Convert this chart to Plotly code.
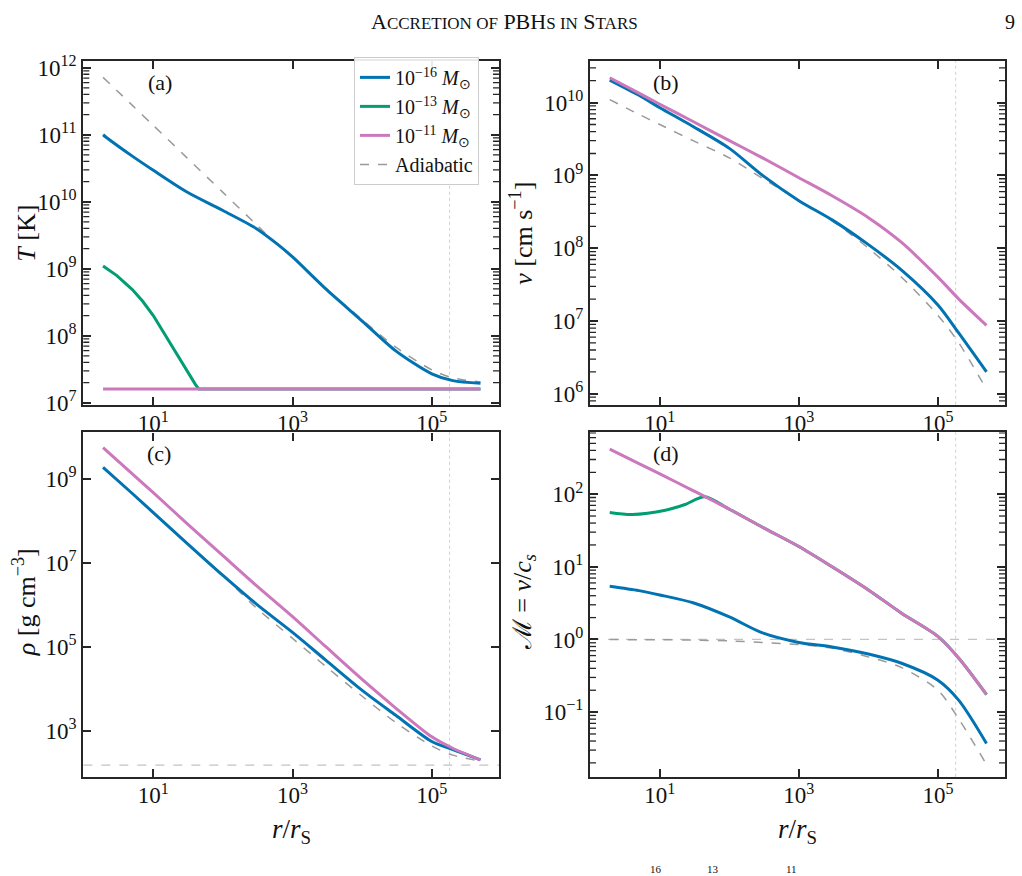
import math
import plotly.graph_objects as go

# ---------------- data ----------------
R = [1.9, 5, 10, 30, 100, 300, 1e3, 3e3, 1e4, 3e4, 1e5, 2e5, 5e5]

# (a) temperature [K]
T_r16 = [1.9, 2.1, 5, 10, 30, 100, 300, 600, 1e3, 3e3, 1e4, 3e4, 1e5, 2e5, 5e5]
T_16 = [1.0e11, 9.2e10, 4.8e10, 2.95e10, 1.41e10, 7.4e9, 4.0e9, 2.35e9, 1.5e9,
        5.0e8, 1.66e8, 6.0e7, 2.7e7, 2.14e7, 1.95e7]
T_r13 = [1.9, 3, 5, 7, 10, 15, 20, 30, 40, 45, 1e3, 1e5, 5e5]
T_13 = [1.1e9, 7.9e8, 4.9e8, 3.3e8, 2.0e8, 1.0e8, 6.3e7, 3.0e7, 1.9e7, 1.6e7,
        1.6e7, 1.6e7, 1.6e7]
T_r11 = [1.9, 5e5]
T_11 = [1.6e7, 1.6e7]
T_rad = [1.9, 5, 10, 30, 100, 300, 600, 1e3, 3e3, 1e4, 3e4, 1e5, 2e5, 5e5]
T_ad = [7.2e11, 2.75e11, 1.38e11, 4.6e10, 1.38e10, 4.6e9, 2.3e9, 1.5e9,
        5.1e8, 1.74e8, 6.8e7, 3.1e7, 2.35e7, 2.04e7]

# (b) velocity [cm/s]
v_16 = [2.04e10, 1.26e10, 8.5e9, 4.7e9, 2.35e9, 1.0e9, 4.5e8, 2.45e8, 1.12e8,
        5.0e7, 1.66e7, 6.8e6, 2.0e6]
v_11 = [2.19e10, 1.35e10, 9.5e9, 5.5e9, 3.0e9, 1.74e9, 9.3e8, 5.25e8, 2.63e8,
        1.2e8, 4.0e7, 2.0e7, 8.7e6]
v_ad = [1.1e10, 6.9e9, 5.0e9, 3.0e9, 1.74e9, 9.1e8, 4.5e8, 2.4e8, 1.0e8,
        4.0e7, 1.2e7, 5.0e6, 1.15e6]

# (c) density [g/cm^3]
rho_16 = [1.9e9, 4.5e8, 1.58e8, 3.0e7, 5.0e6, 1.05e6, 2.2e5, 4.8e4, 9.1e3,
          2.35e3, 5.5e2, 3.55e2, 2.0e2]
rho_11 = [5.6e9, 1.32e9, 4.7e8, 8.9e7, 1.48e7, 2.9e6, 5.2e5, 1.0e5, 1.66e4,
          3.5e3, 7.1e2, 3.8e2, 2.0e2]
rho_ad = [1.9e9, 4.5e8, 1.58e8, 3.0e7, 5.0e6, 8.5e5, 1.58e5, 3.4e4, 6.6e3,
          1.58e3, 4.3e2, 2.6e2, 1.86e2]
rho_ambient = 1.5e2

# (d) Mach number
M_16 = [5.4, 4.7, 4.1, 3.2, 2.04, 1.23, 0.91, 0.79, 0.63, 0.47, 0.275, 0.145, 0.037]
M_r13 = [1.9, 4, 12, 23, 44, 100, 300, 1e3, 3e3, 1e4, 3e4, 1e5, 2e5, 5e5]
M_13 = [56, 52.5, 60, 72, 92, 62, 35, 19, 10, 4.8, 2.3, 1.1, 0.55, 0.174]
M_11 = [417, 263, 190, 112, 62, 35, 19, 10, 4.8, 2.3, 1.1, 0.55, 0.174]
M_ad = [1.0, 0.99, 0.99, 0.98, 0.955, 0.91, 0.85, 0.76, 0.575, 0.41, 0.2, 0.08, 0.019]
M_sonic = 1.0

r_edge = 1.8e5  # vertical dotted line

# ---------------- style ----------------
C16, C13, C11 = "#0173B2", "#029E73", "#CC78BC"
CAD = "#9a9a9a"
FRAME = "#262626"
FONT = "Liberation Serif, Times New Roman, serif"
W, H = 1022, 876

fig = go.Figure()

def px_dom_x(a, b):
    return [a / W, b / W]

def px_dom_y(top, bot):
    return [1 - bot / H, 1 - top / H]

panels = {
    1: dict(x=px_dom_x(83.3, 499), y=px_dom_y(53.3, 405), yr=[6.97, 12.1]),
    2: dict(x=px_dom_x(590, 1005), y=px_dom_y(53.3, 405), yr=[5.85, 10.57]),
    3: dict(x=px_dom_x(83.3, 499), y=px_dom_y(433.3, 785.7), yr=[1.9, 10.11]),
    4: dict(x=px_dom_x(590, 1005), y=px_dom_y(433.3, 785.7), yr=[-1.89, 2.85]),
}

def sup(k):
    s = str(k).replace("-", "\u2212")
    return "10<sup>%s</sup>" % s

def minor_vals(lo, hi):
    out = []
    for e in range(lo, hi + 1):
        for m in range(2, 10):
            out.append(m * 10.0 ** e)
    return out

ytick_exps = {1: list(range(7, 13)), 2: list(range(6, 11)), 3: [3, 5, 7, 9], 4: [-1, 0, 1, 2]}
yminor = {1: (6, 12), 2: (5, 10), 3: None, 4: (-2, 2)}

def xn(i):
    return "x" if i == 1 else "x%d" % i

def yn(i):
    return "y" if i == 1 else "y%d" % i

for i, p in panels.items():
    xa = "xaxis" if i == 1 else "xaxis%d" % i
    ya = "yaxis" if i == 1 else "yaxis%d" % i
    common = dict(showline=True, linecolor=FRAME, linewidth=2.2, mirror="allticks",
                  ticks="inside", ticklen=8, tickwidth=1.6, tickcolor=FRAME,
                  showgrid=False, zeroline=False, type="log",
                  tickfont=dict(family=FONT, size=23, color="#111"))
    fig.layout[xa] = dict(common, domain=p["x"], range=[-0.005, 5.965],
                          anchor=yn(i), ticklabelstandoff=-3,
                          tickmode="array", tickvals=[10, 1e3, 1e5],
                          ticktext=[sup(1), sup(3), sup(5)])
    fig.layout[ya] = dict(common, domain=p["y"], range=p["yr"], anchor=xn(i),
                          tickmode="array", tickvals=[10.0 ** e for e in ytick_exps[i]],
                          ticktext=[sup(e) for e in ytick_exps[i]])

def add(i, x, y, color, name=None, dash="solid", width=3.0, show=False, shape="spline"):
    line = dict(color=color, width=width, dash=dash, shape=shape)
    if shape == "spline":
        line["smoothing"] = 0.8
    fig.add_trace(go.Scatter(
        x=x, y=y, mode="lines", name=name, showlegend=show, line=line,
        xaxis=xn(i), yaxis=yn(i), legendgroup=name, hoverinfo="skip"))

lab16 = "10<sup>\u221216</sup> <i>M</i><sub>\u2299</sub>"
lab13 = "10<sup>\u221213</sup> <i>M</i><sub>\u2299</sub>"
lab11 = "10<sup>\u221211</sup> <i>M</i><sub>\u2299</sub>"

# (a)
add(1, T_rad, T_ad, CAD, "Adiabatic", dash="dash", width=1.5)
add(1, T_r16, T_16, C16, lab16, show=True)
add(1, T_r13, T_13, C13, lab13, show=True, shape="linear")
add(1, T_r11, T_11, C11, lab11, show=True)
# (b)
add(2, R, v_ad, CAD, "Adiabatic", dash="dash", width=1.5)
add(2, R, v_16, C16, lab16)
add(2, R, v_11, C11, lab11)
# (c)
add(3, R, rho_ad, CAD, "Adiabatic", dash="dash", width=1.5)
add(3, R, rho_16, C16, lab16)
add(3, R, rho_11, C11, lab11)
# (d)
add(4, R, M_ad, CAD, "Adiabatic", dash="dash", width=1.5)
add(4, R, M_16, C16, lab16)
add(4, M_r13, M_13, C13, lab13)
add(4, R, M_11, C11, lab11)

fig.add_trace(go.Scatter(x=[None], y=[None], mode="lines", name="Adiabatic",
                         line=dict(color=CAD, width=1.5, dash="dash"), showlegend=True))

shapes = []
for i in panels:
    shapes.append(dict(type="line", xref=xn(i), yref=yn(i) + " domain", x0=r_edge, x1=r_edge,
                       y0=0, y1=1, line=dict(color="#d0d0d0", width=1, dash="dot"), layer="below"))
shapes.append(dict(type="line", xref="x3 domain", yref="y3", x0=0, x1=1, y0=rho_ambient,
                   y1=rho_ambient, line=dict(color="#c4c4c4", width=1.3, dash="dash"), layer="below"))
shapes.append(dict(type="line", xref="x4 domain", yref="y4", x0=0, x1=1, y0=M_sonic,
                   y1=M_sonic, line=dict(color="#c4c4c4", width=1.3, dash="dash"), layer="below"))

# minor y ticks (inside, on both spines), placed on the log axis by value
for i, p in panels.items():
    if not yminor[i]:
        continue
    lo, hi = p["yr"]
    dom = p["x"]
    frac = 6.0 / ((dom[1] - dom[0]) * W)
    for v in minor_vals(*yminor[i]):
        if not (lo < math.log10(v) < hi):
            continue
        for a, b in ((0, frac), (1 - frac, 1)):
            shapes.append(dict(type="line", xref=xn(i) + " domain", yref=yn(i),
                               x0=a, x1=b, y0=v, y1=v,
                               line=dict(color=FRAME, width=1.3), layer="above"))

ann = []
def pa(x, y, text, size=22, angle=0):
    ann.append(dict(x=x / W, y=1 - y / H, xref="paper", yref="paper", text=text,
                    showarrow=False, textangle=angle, xanchor="center", yanchor="middle",
                    font=dict(family=FONT, size=size, color="#111")))

pa(160, 75, "(a)")
pa(666, 75, "(b)")
pa(159, 455, "(c)")
pa(666, 455, "(d)")
pa(27, 230, "<i>T</i> [K]", size=26, angle=-90)
pa(522, 230, "<i>v</i> [cm s<sup>\u22121</sup>]", size=26, angle=-90)
pa(24, 607, "<i>\u03c1</i> [g cm<sup>\u22123</sup>]", size=26, angle=-90)
pa(524, 607, "\u2133 = <i>v</i>/<i>c<sub>s</sub></i>", size=26, angle=-90)
pa(291, 841, "<i>r</i>/<i>r</i><sub>S</sub>", size=27)
pa(797, 841, "<i>r</i>/<i>r</i><sub>S</sub>", size=27)

big, small = 22, 17
hdr = ("A<span style='font-size:%dpx'>CCRETION OF</span> PBH<span style='font-size:%dpx'>S IN</span> "
       "S<span style='font-size:%dpx'>TARS</span>") % (small, small, small)
pa(504, 13, hdr, size=big)
pa(1010, 13, "9", size=20)
pa(656, 880, "16", size=11)
pa(713, 880, "13", size=11)
pa(791, 880, "11", size=11)

fig.update_layout(
    width=W, height=H, margin=dict(l=0, r=0, t=0, b=0),
    paper_bgcolor="white", plot_bgcolor="white",
    shapes=shapes, annotations=ann,
    showlegend=True,
    legend=dict(x=354 / W, y=1 - 49 / H, xanchor="left", yanchor="top",
                bgcolor="rgba(255,255,255,0.9)", bordercolor="#cccccc", borderwidth=1,
                font=dict(family=FONT, size=20, color="#111"),
                tracegroupgap=0, itemwidth=30),
)

fig.write_html("out.html")
